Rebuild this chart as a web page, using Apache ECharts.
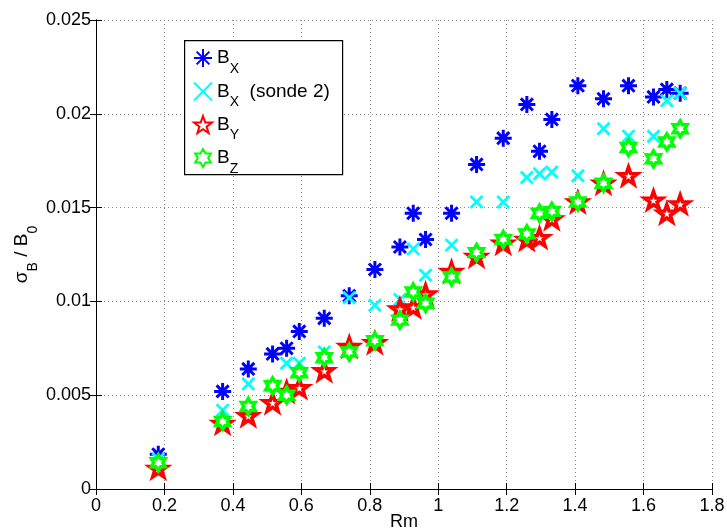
<!DOCTYPE html>
<html><head><meta charset="utf-8">
<script src="https://cdn.jsdelivr.net/npm/echarts@6/dist/echarts.min.js"></script>
<style>html,body{margin:0;padding:0;background:#fff}#c{width:727px;height:530px}</style>
</head><body><div id="c"></div>
<script>
const rm  = [0.182, 0.370, 0.445, 0.516, 0.557, 0.594, 0.667, 0.740, 0.815, 0.888, 0.927, 0.963, 1.039, 1.112, 1.190, 1.259, 1.296, 1.332, 1.408, 1.483, 1.556, 1.629, 1.668, 1.707];
const bx  = [0.00185, 0.0052, 0.0064, 0.0072, 0.0075, 0.0084, 0.0091, 0.0103, 0.0117, 0.0129, 0.0147, 0.0133, 0.0147, 0.0173, 0.0187, 0.0205, 0.0180, 0.0197, 0.0215, 0.0208, 0.0215, 0.0209, 0.0213, 0.0211];
const bx2 = [0.0016, 0.0042, 0.0056, 0.0055, 0.0067, 0.0067, 0.0073, 0.0102, 0.0098, 0.0101, 0.0128, 0.0114, 0.0130, 0.0153, 0.0153, 0.0166, 0.0168, 0.0169, 0.0167, 0.0192, 0.0188, 0.0188, 0.0207, 0.0211];
const by  = [0.0011, 0.0035, 0.0039, 0.0046, 0.0052, 0.0054, 0.0063, 0.0076, 0.0078, 0.0096, 0.0097, 0.0104, 0.0116, 0.0124, 0.0131, 0.0133, 0.0134, 0.0144, 0.0153, 0.0163, 0.0167, 0.0154, 0.0147, 0.0152];
const bz  = [0.0014, 0.0036, 0.0044, 0.0055, 0.0050, 0.0062, 0.0070, 0.0073, 0.0079, 0.0090, 0.0105, 0.0099, 0.0113, 0.0126, 0.0133, 0.0136, 0.0147, 0.0148, 0.0153, 0.0163, 0.0182, 0.0176, 0.0185, 0.0192];
const xTicks = [0, 0.2, 0.4, 0.6, 0.8, 1, 1.2, 1.4, 1.6, 1.8];
const yTicks = [0, 0.005, 0.01, 0.015, 0.02, 0.025];
const seriesNames = ['Bx', 'Bx2', 'By', 'Bz'];
const legendLabels = {
  Bx: '{b|B}{s|X}',
  Bx2: '{b|B}{s|X}{b|  (sonde 2)}',
  By: '{b|B}{s|Y}',
  Bz: '{b|B}{s|Z}'
};

function starPath(n, rin, startDeg) {
  let d = '';
  for (let i = 0; i < 2 * n; i++) {
    const r = (i % 2 === 0) ? 100 : 100 * rin;
    const a = (startDeg + i * 180 / n) * Math.PI / 180;
    const x = (100 + r * Math.cos(a)).toFixed(2), y = (100 + r * Math.sin(a)).toFixed(2);
    d += (i === 0 ? 'M' : 'L') + x + ',' + y;
  }
  return 'path://' + d + 'Z';
}
const asterisk = 'path://M100,0L100,200M0,100L200,100M29,29L171,171M29,171L171,29';
const cross = 'path://M0,0L200,200M0,200L200,0';
const pentagram = starPath(5, 0.40, -90);
const hexagram = starPath(6, 0.577, -90);

function pts(ys) { return rm.map((x, i) => [x, ys[i]]); }
const FONT = 'Liberation Sans, Arial, Helvetica, sans-serif';
const fmt = v => String(+v.toFixed(4));

const chart = echarts.init(document.getElementById('c'), null, {renderer: 'canvas'});
chart.setOption({
  animation: false,
  backgroundColor: '#fff',
  grid: {left: 96, right: 15, top: 20, bottom: 41, containLabel: false, outerBoundsMode: 'none'},
  graphic: [{type: 'rect', left: 184, top: 40, shape: {width: 158, height: 134}, style: {fill: '#fff', stroke: '#000', lineWidth: 1.2}, z: 5}],
  legend: {
    data: seriesNames, orient: 'vertical', left: 193, top: 48, itemGap: 5.5,
    itemWidth: 18, itemHeight: 18, z: 10, padding: 0,
    formatter: n => legendLabels[n],
    textStyle: {fontFamily: FONT, fontSize: 19, color: '#000',
      rich: {b: {fontSize: 19, fontFamily: FONT, lineHeight: 22, color: '#000'},
             s: {fontSize: 14, fontFamily: FONT, lineHeight: 12, verticalAlign: 'bottom', color: '#000', padding: [0, 0, -7, 0]}}}
  },
  xAxis: [{
    type: 'value', min: 0, max: 1.8, interval: 0.2, position: 'bottom',
    name: 'Rm', nameLocation: 'middle', nameGap: 24, nameMoveOverlap: false,
    nameTextStyle: {fontFamily: FONT, fontSize: 18, color: '#000'},
    axisLine: {lineStyle: {color: '#000', width: 1}},
    axisTick: {inside: true, length: 6, lineStyle: {color: '#000'}},
    axisLabel: {fontFamily: FONT, fontSize: 18, color: '#000', margin: 8, formatter: fmt},
    splitLine: {show: true, lineStyle: {type: [1, 3], color: '#888', width: 1}}
  }, {
    type: 'value', min: 0, max: 1.8, interval: 0.2, position: 'top',
    axisLine: {lineStyle: {color: '#000', width: 1}},
    axisTick: {inside: true, length: 6, lineStyle: {color: '#000'}},
    axisLabel: {show: false}, splitLine: {show: false}
  }],
  yAxis: [{
    type: 'value', min: 0, max: 0.025, interval: 0.005, position: 'left',
    name: '{a|σ}{s|B}{a| / B}{s|0}', nameLocation: 'middle', nameGap: 62, nameRotate: 90, nameMoveOverlap: false,
    nameTextStyle: {fontFamily: FONT, fontSize: 19, color: '#000',
      rich: {a: {fontSize: 19, fontFamily: FONT, lineHeight: 24, color: '#000'},
             s: {fontSize: 14, fontFamily: FONT, lineHeight: 12, verticalAlign: 'bottom', color: '#000', padding: [0, 0, -6, 0]}}},
    axisLine: {lineStyle: {color: '#000', width: 1}},
    axisTick: {inside: true, length: 6, lineStyle: {color: '#000'}},
    axisLabel: {fontFamily: FONT, fontSize: 18, color: '#000', margin: 5, formatter: fmt},
    splitLine: {show: true, lineStyle: {type: [1, 3], color: '#888', width: 1}}
  }, {
    type: 'value', min: 0, max: 0.025, interval: 0.005, position: 'right',
    axisLine: {lineStyle: {color: '#000', width: 1}},
    axisTick: {inside: true, length: 6, lineStyle: {color: '#000'}},
    axisLabel: {show: false}, splitLine: {show: false}
  }],
  series: [
    {name: 'Bx', type: 'scatter', data: pts(bx), symbol: asterisk, symbolSize: 17, symbolKeepAspect: true,
     itemStyle: {color: 'rgba(0,0,0,0)', borderColor: '#0000ff', borderWidth: 3, opacity: 1}, z: 2},
    {name: 'Bx2', type: 'scatter', data: pts(bx2), symbol: cross, symbolSize: 12, symbolKeepAspect: true,
     itemStyle: {color: 'rgba(0,0,0,0)', borderColor: '#00ffff', borderWidth: 2.8, opacity: 1}, z: 3},
    {name: 'By', type: 'scatter', data: pts(by), symbol: pentagram, symbolSize: 18, symbolKeepAspect: true,
     itemStyle: {color: '#ffffff', borderColor: '#ff0000', borderWidth: 3.6, opacity: 1}, z: 4},
    {name: 'Bz', type: 'scatter', data: pts(bz), symbol: hexagram, symbolSize: 16, symbolKeepAspect: true,
     itemStyle: {color: '#ffffff', borderColor: '#00ff00', borderWidth: 3.4, opacity: 1}, z: 5}
  ]
});
</script></body></html>
